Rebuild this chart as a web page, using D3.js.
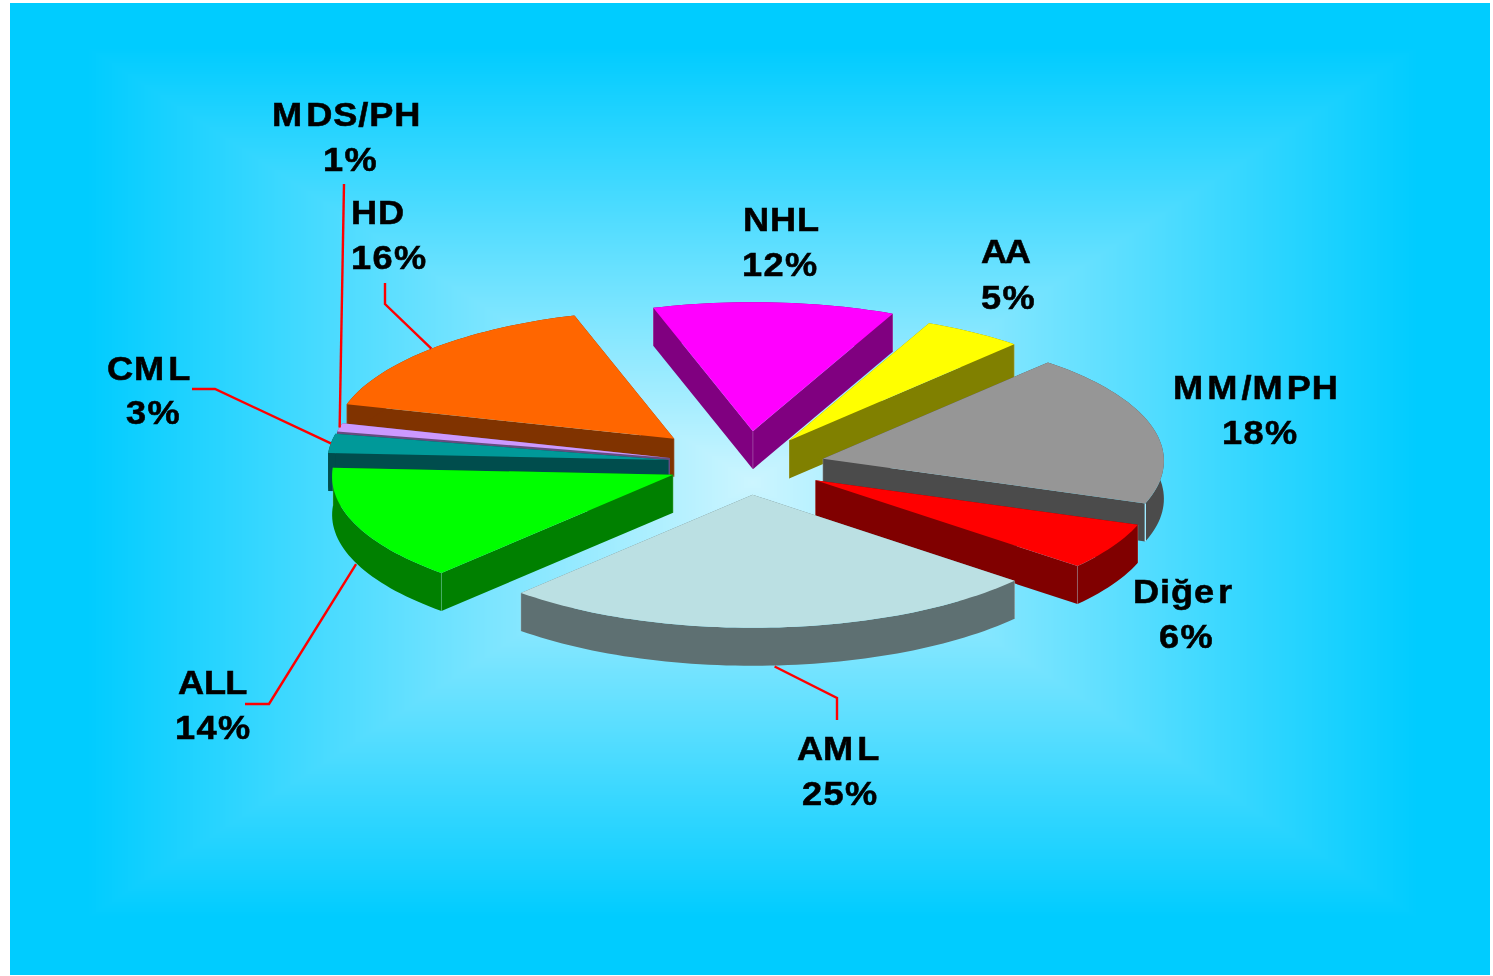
<!DOCTYPE html>
<html>
<head>
<meta charset="utf-8">
<script src="https://cdn.jsdelivr.net/npm/d3@7/dist/d3.min.js"></script>
<style>
html,body{margin:0;padding:0;background:#fff;overflow:hidden}
#bg,#chart{position:absolute;left:0;top:0}
text{font-family:"Liberation Sans",Arial,sans-serif;font-weight:700;fill:#000;stroke:#000;stroke-width:.55}
</style>
</head>
<body>
<canvas id="bg" width="1493" height="976"></canvas>
<svg id="chart" width="1493" height="976"></svg>
<script>
// ---- data ----
const categories = ["NHL","AA","MM/MPH","Diğer","AML","ALL","CML","MDS/PH","HD"];
const values     = [12,5,18,6,25,14,3,1,16];

// ---- styling / layout (not data) ----
const topColors  = ["#FF00FF","#FFFF00","#969696","#FF0000","#BBE0E3","#00FF00","#009999","#CC99FF","#FF6600"];
const wallColors = ["#800080","#808000","#4B4B4B","#800000","#5E7072","#008000","#004D4D","#664C80","#803300"];
const explode    = [87,77,78,78,79,80,80,80,103];
const apexNudgeY = [0,1,2,1,0,-1,0,1,2];
const drawOrder  = ["NHL","AA","HD","MM/MPH","MDS/PH","CML","Diğer","ALL","AML"];
const perspectiveDomain = [-17,26.2,44.2,109,130.6,220.6,271,281.8,285.4,343];
const perspectiveRange  = [-17,24.2,41.3,109,129.8,222.8,274,282.5,286.2,343];
const labelPos = {
  "NHL":[[743,231],[742,276]], "AA":[[981,263],[981,309]],
  "MM/MPH":[[1173,399],[1222,444]], "Diğer":[[1133,603],[1159,648]],
  "AML":[[797,760],[802,805]], "ALL":[[178,694],[175,739]],
  "CML":[[107,380],[126,424]], "MDS/PH":[[272,126],[323,171]],
  "HD":[[351,224],[351,269]]
};
const leaderElbows = {
  "MDS/PH":[[344,184]],
  "HD":[[385,283],[385,304]],
  "CML":[[192,389],[215,389]],
  "ALL":[[245,704],[269,704]],
  "AML":[[837,720],[837,698]]
};

const RX=341, RY_BACK=129, RY_FRONT=133, DEPTH=38, CX=747.5, CY=464.5;

// ---- background: rectangular "from centre" gradient ----
(function(){
  const ctx=document.getElementById("bg").getContext("2d");
  const x0=10,y0=3,x1=1490,y1=975;
  const img=ctx.createImageData(x1-x0,y1-y0);
  const cA=[0,204,255], cB=[204,245,255];
  const bx=752, by=482, hw=665, hh=435;
  let k=0;
  for(let y=y0;y<y1;y++)for(let x=x0;x<x1;x++){
    const u=Math.max(Math.abs(x-bx)/hw,Math.abs(y-by)/hh);
    const s=Math.max(0,1-u);
    img.data[k++]=cA[0]+(cB[0]-cA[0])*s;
    img.data[k++]=cA[1]+(cB[1]-cA[1])*s;
    img.data[k++]=cA[2]+(cB[2]-cA[2])*s;
    img.data[k++]=255;
  }
  ctx.putImageData(img,x0,y0);
})();

// ---- pie ----
const deg=Math.PI/180;
const pie=d3.pie().sort(null).startAngle(-17*deg).endAngle(343*deg);
const arcs=pie(values);
const warp=d3.scaleLinear().domain(perspectiveDomain).range(perspectiveRange);
const xScale=d3.scaleLinear().domain([-1,1]).range([-RX,RX]);
const yScale=d3.scaleLinear().domain([-1,1]).range([-RY_BACK,RY_FRONT]);
const line=d3.line();
const RYM=(RY_BACK+RY_FRONT)/2;

const slices=categories.map((c,i)=>{
  const a=arcs[i];
  const a0=warp(a.startAngle/deg)*deg, a1=warp(a.endAngle/deg)*deg;
  const mid=(a0+a1)/2;
  const ax=CX+Math.sin(mid)*explode[i];
  const ay=CY-Math.cos(mid)*explode[i]*RYM/RX+apexNudgeY[i];
  const pt=t=>[ax+xScale(Math.sin(t)),ay+yScale(-Math.cos(t))];
  return {c,i,a0,a1,mid,ax,ay,pt};
});

const svg=d3.select("#chart");
const gPie=svg.append("g");

drawOrder.forEach(name=>{
  const s=slices.find(d=>d.c===name);
  const {a0,a1,ax,ay,pt,i}=s;
  const n=Math.ceil((a1-a0)/(1.5*deg));
  const ts=d3.range(n+1).map(k=>a0+(a1-a0)*k/n);
  const rim=ts.map(pt);
  const g=gPie.append("g").attr("class","slice");
  const down=p=>[p[0],p[1]+DEPTH];
  const first=rim[0], last=rim[rim.length-1];
  [first,last].forEach(p=>{
    g.append("path").attr("d",line([[ax,ay],p,down(p),[ax,ay+DEPTH]])+"Z")
      .attr("fill",wallColors[i]);
  });
  g.append("path").attr("d",line(rim.concat(rim.slice().reverse().map(down)))+"Z")
    .attr("fill",wallColors[i]);
  // thin highlight on the vertical corners between wall faces
  if(name!=="CML"&&name!=="MDS/PH"){
    [[ax,ay],first,last].forEach(p=>{
      const gap=name==="MM/MPH"&&p===last;
      g.append("path").attr("d",line([p,down(p)]))
        .attr("fill","none")
        .attr("stroke",gap?"#9FE9FF":"#fff")
        .attr("stroke-opacity",gap?1:0.2)
        .attr("stroke-width",gap?1.4:1);
    });
  }
  g.append("path").attr("d",line([[ax,ay]].concat(rim))+"Z")
    .attr("fill",topColors[i]);
});

// ---- leaders ----
const gLead=svg.append("g");
Object.keys(leaderElbows).forEach(name=>{
  const s=slices.find(d=>d.c===name);
  const p=s.pt(s.mid);
  const nm=((s.mid/deg)%360+360)%360;
  const end=(nm>90&&nm<270)?[p[0],p[1]+DEPTH+1]:p;
  gLead.append("path").attr("d",line(leaderElbows[name].concat([end])))
    .attr("fill","none").attr("stroke","#FF0000").attr("stroke-width",2.4);
});

// ---- labels ----
const gLab=svg.append("g");
function gaps(str){ // uneven letter gaps seen in the source lettering
  return Array.from(str).map((ch,k,arr)=>{
    const prev=arr[k-1];
    if(prev==="M") return 3;
    if(ch==="r") return 3;
    if(prev==="A"&&ch==="A") return -3;
    if(prev==="A"&&ch==="M") return -1;
    if(prev==="A"&&ch==="L") return -1;
    if(prev==="L"&&ch==="L") return -1.5;
    return 0;
  }).join(" ");
}
categories.forEach((c,i)=>{
  [c,values[i]+"%"].forEach((t,j)=>{
    gLab.append("text")
      .attr("transform",`translate(${labelPos[c][j][0]},${labelPos[c][j][1]}) scale(1.08,1)`)
      .attr("dx",gaps(t))
      .attr("font-size",33.5).attr("letter-spacing",j?1.3:0.8)
      .text(t);
  });
});
</script>
</body>
</html>
